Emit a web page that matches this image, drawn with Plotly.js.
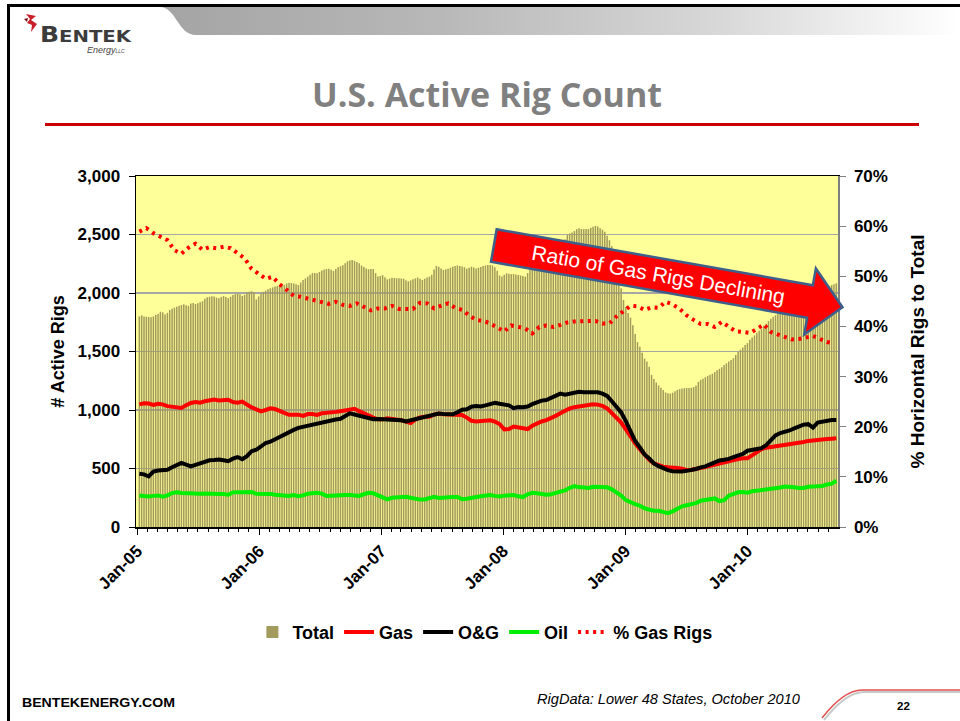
<!DOCTYPE html>
<html>
<head>
<meta charset="utf-8">
<script src="https://cdn.plot.ly/plotly-3.0.1.min.js"></script>
<style>
html,body{margin:0;padding:0;background:#fff;}
#wrap{position:relative;width:960px;height:721px;overflow:hidden;background:#fff;}
#chart{position:absolute;left:0;top:0;width:960px;height:721px;}
#deco{position:absolute;left:0;top:0;pointer-events:none;}
</style>
</head>
<body>
<div id="wrap">
<svg id="deco0" width="960" height="721" style="position:absolute;left:0;top:0;">
  <defs>
    <linearGradient id="bandGrad" x1="0" x2="1" y1="0" y2="0">
      <stop offset="0" stop-color="#a4a4a4"/>
      <stop offset="0.35" stop-color="#b8b8b8"/>
      <stop offset="0.7" stop-color="#d8d8d8"/>
      <stop offset="1" stop-color="#ffffff"/>
    </linearGradient>
  </defs>
  <path d="M160 7 C 176 7, 178 35, 196 35 L 960 35 L 960 7 Z" fill="url(#bandGrad)"/>
</svg>
<div id="chart"></div>
<svg id="deco" width="960" height="721">
  <rect x="7" y="4" width="953" height="3" fill="#000"/>
  <rect x="7" y="4" width="3" height="717" fill="#000"/>
  <!-- logo -->
  <path d="M26 14 L36 16 L31 20 L37 24 L31 32 L32 25 L27 23 L30 19 Z" fill="#c8202a"/>
  <path d="M24 19 L28 18 L27 22 Z" fill="#7a1010"/>
  <text x="40" y="42" font-family="DejaVu Sans" font-weight="bold" fill="#3c3c3c" textLength="91" lengthAdjust="spacingAndGlyphs"><tspan font-size="21">B</tspan><tspan font-size="16.5">ENTEK</tspan></text>
  <text x="87" y="53" font-family="Liberation Sans" font-style="italic" font-size="9" fill="#444">Energy<tspan font-size="5">LLC</tspan></text>
  <!-- title underline -->
  <rect x="45" y="123" width="874" height="3" fill="#cc0000"/>
  <!-- footer -->
  <text x="22" y="707" font-family="Liberation Sans" font-weight="bold" font-size="13.5" fill="#000" textLength="153" lengthAdjust="spacingAndGlyphs">BENTEKENERGY.COM</text>
  <text x="537" y="704" font-family="Liberation Sans" font-style="italic" font-size="14" fill="#000" textLength="263" lengthAdjust="spacingAndGlyphs">RigData: Lower 48 States, October 2010</text>
  <path d="M824 720 Q 846 692 864 692 L 960 692" stroke="#c8c8c8" stroke-width="2" fill="none"/>
  <path d="M822 718 Q 844 690 862 690 L 960 690" stroke="#e05050" stroke-width="1.5" fill="none"/>
  <text x="897" y="710" font-family="Liberation Sans" font-weight="bold" font-size="11.5" fill="#000">22</text>
</svg>
</div>
<script>
// Weekly total active rigs, starting week of 2005-01-07
const totalRigs = [
1800,1809,1800,1797,1795,1792,1800,1812,1820,1840,
1835,1817,1830,1855,1865,1875,1883,1890,1898,1903,
1895,1890,1910,1915,1906,1912,1920,1930,1950,1963,
1968,1972,1970,1960,1955,1965,1974,1965,1955,1968,
1983,1990,2000,1990,1975,1985,2005,2011,2015,2008,
1945,1970,1995,2010,2020,2032,2040,2048,2056,2060,
2058,2062,2070,2082,2088,2085,2082,2075,2068,2090,
2111,2125,2140,2155,2170,2172,2168,2180,2192,2200,
2205,2208,2198,2188,2205,2220,2228,2238,2255,2272,
2278,2282,2275,2265,2255,2235,2222,2210,2202,2205,
2205,2170,2140,2145,2153,2135,2117,2122,2130,2128,
2126,2125,2124,2122,2110,2100,2108,2117,2125,2133,
2122,2111,2122,2133,2140,2155,2200,2231,2225,2210,
2197,2203,2208,2215,2225,2230,2234,2230,2226,2220,
2208,2215,2225,2218,2210,2215,2222,2230,2235,2239,
2240,2235,2220,2190,2150,2140,2155,2168,2165,2160,
2162,2158,2153,2150,2145,2140,2170,2202,2212,2225,
2245,2265,2275,2285,2296,2315,2330,2340,2365,2395,
2420,2440,2460,2495,2508,2518,2530,2545,2553,2548,
2544,2546,2547,2558,2567,2572,2568,2553,2540,2524,
2490,2450,2400,2330,2250,2150,2040,1940,1880,1830,
1790,1725,1650,1580,1541,1490,1440,1415,1370,1300,
1265,1235,1210,1190,1170,1150,1143,1140,1148,1160,
1172,1178,1183,1186,1188,1188,1190,1196,1210,1240,
1258,1268,1280,1292,1302,1310,1325,1340,1352,1365,
1385,1399,1415,1428,1442,1470,1495,1515,1535,1555,
1572,1600,1620,1638,1660,1678,1695,1720,1738,1760,
1780,1797,1810,1825,1840,1855,1870,1885,1900,1912,
1925,1935,1945,1955,1965,1975,1985,1995,2005,2015,
2022,2030,2040,2048,2054,2060,2068,2075,2083
];
// Bi-weekly gas / oil & gas / oil rig counts, starting 2005-01-07
const gasRigs = [
1048,1058,1055,1043,1053,1048,1033,1029,1020,1018,
1040,1060,1068,1063,1075,1085,1090,1082,1085,1088,
1068,1062,1072,1043,1022,1005,988,1000,1014,1008,
992,970,959,960,960,950,965,966,958,972,
975,974,984,990,998,1008,1010,990,970,950,
935,920,920,929,925,921,913,900,888,918,
936,943,943,960,970,963,963,962,960,958,
935,908,901,903,913,912,900,880,835,838,
858,850,840,837,865,886,902,914,930,950,
972,995,1013,1024,1032,1039,1044,1048,1046,1035,
1014,975,935,893,835,772,715,665,615,575,
544,528,516,510,510,505,498,488,490,496,
501,512,522,532,546,554,561,571,581,587,
587,612,640,666,678,684,687,691,697,703,
709,717,727,736,742,748,752,752,755,758
];
const ogRigs = [
455,450,432,473,483,487,490,510,533,548,
534,518,531,544,560,570,573,577,570,562,
584,598,580,605,648,660,688,718,729,749,
773,797,812,830,847,857,867,877,887,896,
907,916,919,925,945,972,962,951,944,935,
922,924,922,915,920,916,912,902,912,923,
929,935,946,958,969,966,963,963,981,1002,
1006,1028,1034,1030,1040,1052,1062,1053,1046,1040,
1016,1026,1024,1030,1050,1068,1080,1085,1102,1128,
1140,1130,1137,1145,1155,1152,1150,1156,1152,1140,
1120,1075,1030,980,905,815,735,680,620,585,
544,520,500,486,476,473,474,480,486,496,
510,518,536,556,569,575,582,598,610,625,
652,661,667,674,700,745,783,803,812,825,
843,863,875,879,850,892,902,908,915,915
];
const oilRigs = [
270,265,260,266,270,260,270,290,296,290,
287,285,283,284,287,288,286,283,282,276,
296,298,293,297,300,284,285,288,283,276,
271,268,266,273,263,270,285,289,292,285,
266,268,272,273,273,273,270,266,280,292,
288,268,250,236,250,255,257,259,250,238,
234,235,250,258,248,248,252,256,257,237,
242,253,256,262,268,273,266,260,268,273,
273,262,256,280,292,288,280,276,280,290,
300,312,335,349,341,335,333,343,344,341,
339,322,298,268,230,210,196,182,160,148,
139,139,132,118,134,158,177,186,193,204,
225,229,236,244,222,230,268,285,297,299,
293,305,310,312,320,322,326,337,346,346,
339,333,334,344,344,346,351,363,370,395
];
// % gas rigs of total, every 3 weeks starting 2005-01-07
const pctGasRigs = [
58.9,59.6,58.6,58.0,57.2,55.2,54.5,55.7,56.5,55.3,
55.8,55.6,55.9,55.6,54.5,53.6,51.5,50.4,49.5,49.9,
48.4,47.3,46.1,45.9,45.5,45.2,44.8,44.5,44.9,44.3,
44.1,44.6,43.9,43.2,43.6,43.6,44.1,43.5,43.5,43.5,
44.7,44.6,43.6,44.0,44.6,43.7,43.3,42.2,41.3,41.1,
40.6,39.8,39.0,40.2,39.9,39.6,38.6,39.9,40.2,39.9,
40.3,40.8,41.0,41.0,41.0,41.1,40.6,40.6,42.0,43.1,
44.1,44.0,43.3,43.8,43.7,44.9,44.4,43.5,42.2,41.3,
40.5,40.5,39.9,40.9,39.9,39.0,38.9,38.7,39.5,40.4,
38.9,38.4,37.9,37.4,37.5,37.8,38.1,37.5,36.9,36.6
];
const seriesNames = ['Total','Gas','O&G','Oil','% Gas Rigs'];
const firstWeek = '2005-01-07';
const DAY = 86400000;

const tickFont = {family:'Liberation Sans, Arial, sans-serif', size:17, color:'#000', weight:'bold'};

const traces = [
  {type:'bar', name:seriesNames[0], x0:firstWeek, dx:7*DAY, y:totalRigs,
   marker:{color:'#a39b5c', line:{width:0}}, hoverinfo:'skip'},
  {type:'scatter', mode:'lines', name:seriesNames[1], x0:firstWeek, dx:14*DAY, y:gasRigs,
   line:{color:'#ff0000', width:4}},
  {type:'scatter', mode:'lines', name:seriesNames[2], x0:firstWeek, dx:14*DAY, y:ogRigs,
   line:{color:'#000000', width:4}},
  {type:'scatter', mode:'lines', name:seriesNames[3], x0:firstWeek, dx:14*DAY, y:oilRigs,
   line:{color:'#00ee00', width:4}},
  {type:'scatter', mode:'lines', name:seriesNames[4], x0:firstWeek, dx:21*DAY, y:pctGasRigs,
   yaxis:'y2', line:{color:'#ff0000', width:4, dash:'3px,4.5px'}}
];

// arrow (paper coordinates)
const arrowPath = 'M0.5138,0.8481 L0.9642,0.6889 L0.9685,0.7365 L1.0064,0.6262 L0.9519,0.5487 L0.9561,0.5963 L0.5057,0.7556 Z';

const layout = {
  width:960, height:721,
  margin:{l:136, r:122, t:176, b:194, pad:0},
  paper_bgcolor:'rgba(0,0,0,0)',
  plot_bgcolor:'#ffff99',
  bargap:0.35,
  showlegend:true,
  title:{text:'U.S. Active Rig Count', font:{family:'Open Sans, sans-serif', size:34, color:'#808080', weight:'bold'},
         x:0.5, xref:'paper', xanchor:'center', y:1-95/721, yref:'container', yanchor:'middle'},
  xaxis:{type:'date', range:['2004-12-28','2010-09-29'], tick0:'2005-01-01', dtick:'M12', tickformat:'%b-%y',
         tickangle:-45, ticks:'outside', ticklen:6, tickcolor:'#000', tickwidth:1,
         showline:true, linecolor:'#000', linewidth:1.5, mirror:true, showgrid:false, zeroline:false,
         tickfont:tickFont,
         minor:{dtick:'M1', ticks:'outside', ticklen:3, tickcolor:'#000', tickwidth:1, showgrid:false}},
  yaxis:{range:[0,3000], dtick:500, tickformat:',d', ticks:'outside', ticklen:6, tickcolor:'#000',
         ticklabelstandoff:5,
         showline:true, linecolor:'#000', linewidth:1.5, showgrid:true, gridcolor:'#a6a6a6', gridwidth:1.5,
         zeroline:false, tickfont:tickFont,
         title:{text:'# Active Rigs', font:{family:'Liberation Sans, Arial, sans-serif', size:18, color:'#000', weight:'bold'}, standoff:8}},
  yaxis2:{overlaying:'y', side:'right', range:[0,70], dtick:10, ticksuffix:'%', ticks:'outside', ticklen:6,
          tickcolor:'#808080', ticklabelstandoff:5,
          showline:true, linecolor:'#808080', linewidth:1.5, showgrid:false, zeroline:false, tickfont:tickFont,
          title:{text:'% Horizontal Rigs to Total', font:{family:'Liberation Sans, Arial, sans-serif', size:19, color:'#000', weight:'bold'}, standoff:24}},
  legend:{orientation:'h', x:0.497, xanchor:'center', y:-0.30, yanchor:'middle',
          font:{family:'Liberation Sans, Arial, sans-serif', size:18, color:'#000', weight:'bold'},
          bgcolor:'rgba(0,0,0,0)', traceorder:'normal'},
  shapes:[{type:'path', xref:'paper', yref:'paper', path:arrowPath, fillcolor:'#ff0000',
           line:{color:'#3d5f8c', width:2.5}, layer:'above'}],
  annotations:[{xref:'paper', yref:'paper', x:0.745, y:0.718, xanchor:'center', yanchor:'middle',
                text:'Ratio of Gas Rigs Declining', showarrow:false, textangle:10,
                font:{family:'Liberation Sans, Arial, sans-serif', size:21, color:'#ffffff'}}]
};

Plotly.newPlot('chart', traces, layout, {displayModeBar:false, staticPlot:true});
</script>
</body>
</html>
